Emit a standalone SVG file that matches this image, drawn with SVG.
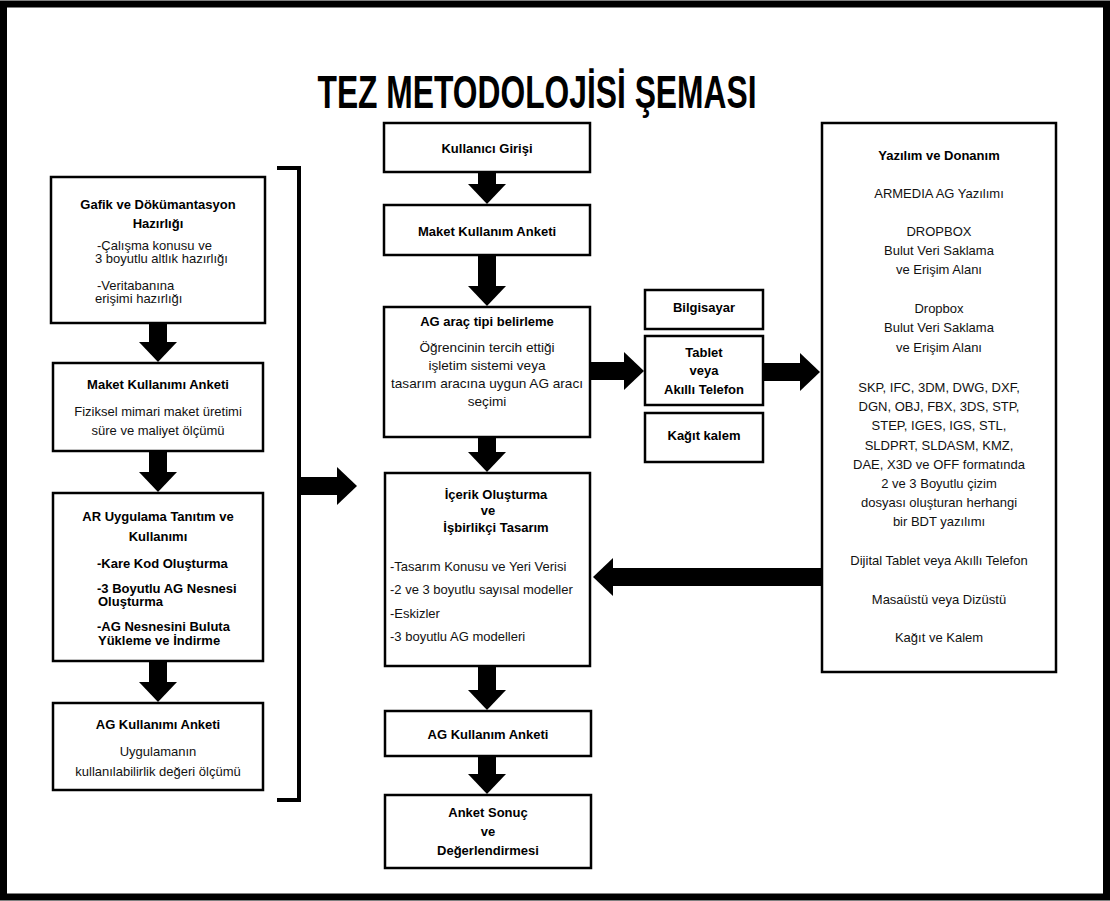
<svg xmlns="http://www.w3.org/2000/svg" width="1110" height="901" viewBox="0 0 1110 901">
<defs>
<style>
.frame{fill:#fff;stroke:#000;stroke-width:7}
.box{fill:#fff;stroke:#000;stroke-width:2.5}
.h{font-family:"Liberation Sans",Arial,sans-serif;font-weight:bold;font-size:13px;text-anchor:middle;fill:#000}
.t{font-family:"Liberation Sans",Arial,sans-serif;font-size:13px;text-anchor:middle;fill:#111}
.tm{font-family:"Liberation Sans",Arial,sans-serif;font-size:13.6px;text-anchor:middle;fill:#111}
.tl{font-family:"Liberation Sans",Arial,sans-serif;font-size:13px;text-anchor:start;fill:#111}
.hl{font-family:"Liberation Sans",Arial,sans-serif;font-weight:bold;font-size:13px;text-anchor:start;fill:#000}
.title{font-family:"Liberation Sans",Arial,sans-serif;font-weight:bold;font-size:47px;text-anchor:middle;fill:#000}
.shaft{stroke:#000;stroke-width:18;fill:none}
.bracket{stroke:#000;stroke-width:4;fill:none}
</style>
<marker id="ah" markerUnits="userSpaceOnUse" markerWidth="20" markerHeight="38" viewBox="0 0 20 38" refX="0" refY="19" orient="auto">
<path d="M0,0 L20,19 L0,38 z" fill="#000"/>
</marker>
</defs>
<rect class="frame" x="3.5" y="4" width="1103" height="893"/>
<text class="title" x="537" y="108" textLength="439" lengthAdjust="spacingAndGlyphs">TEZ METODOLOJİSİ ŞEMASI</text>

<g id="gafik">
<rect class="box" x="51" y="177" width="214" height="146"/>
<text class="h" x="158" y="209">Gafik ve Dökümantasyon</text>
<text class="h" x="158" y="228">Hazırlığı</text>
<text class="tl" x="97" y="250">-Çalışma konusu ve</text>
<text class="tl" x="95" y="263">3 boyutlu altlık hazırlığı</text>
<text class="tl" x="97" y="290">-Veritabanına</text>
<text class="tl" x="95" y="303">erişimi hazırlığı</text>
</g>
<g id="maket1">
<rect class="box" x="53" y="363" width="210" height="88"/>
<text class="h" x="158" y="389">Maket Kullanımı Anketi</text>
<text class="t" x="158" y="416">Fiziksel mimari maket üretimi</text>
<text class="t" x="158" y="435">süre ve maliyet ölçümü</text>
</g>
<g id="ar">
<rect class="box" x="53" y="493" width="210" height="168"/>
<text class="h" x="158" y="521">AR Uygulama Tanıtım ve</text>
<text class="h" x="158" y="541">Kullanımı</text>
<text class="hl" x="97" y="568">-Kare Kod Oluşturma</text>
<text class="hl" x="97" y="593">-3 Boyutlu AG Nesnesi</text>
<text class="hl" x="98" y="606">Oluşturma</text>
<text class="hl" x="97" y="631">-AG Nesnesini Buluta</text>
<text class="hl" x="98" y="645">Yükleme ve İndirme</text>
</g>
<g id="agk1">
<rect class="box" x="53" y="703" width="210" height="87"/>
<text class="h" x="158" y="729">AG Kullanımı Anketi</text>
<text class="t" x="158" y="756">Uygulamanın</text>
<text class="t" x="158" y="776">kullanılabilirlik değeri ölçümü</text>
</g>

<g id="giris">
<rect class="box" x="384" y="123" width="206" height="49"/>
<text class="h" x="487" y="153">Kullanıcı Girişi</text>
</g>
<g id="maket2">
<rect class="box" x="384" y="205" width="206" height="50"/>
<text class="h" x="487" y="236">Maket Kullanım Anketi</text>
</g>
<g id="agarac">
<rect class="box" x="384" y="307" width="206" height="130"/>
<text class="h" x="487" y="326">AG araç tipi belirleme</text>
<text class="tm" x="487" y="352">Öğrencinin tercih ettiği</text>
<text class="tm" x="487" y="370">işletim sistemi veya</text>
<text class="tm" x="487" y="388">tasarım aracına uygun AG aracı</text>
<text class="tm" x="487" y="406">seçimi</text>
</g>
<g id="icerik">
<rect class="box" x="385" y="473" width="205" height="193"/>
<text class="h" x="496" y="499">İçerik Oluşturma</text>
<text class="h" x="488" y="515">ve</text>
<text class="h" x="496" y="532">İşbirlikçi Tasarım</text>
<text class="tl" x="390" y="571">-Tasarım Konusu ve Yeri Verisi</text>
<text class="tl" x="390" y="594">-2 ve 3 boyutlu sayısal modeller</text>
<text class="tl" x="390" y="618">-Eskizler</text>
<text class="tl" x="390" y="641">-3 boyutlu AG modelleri</text>
</g>
<g id="agk2">
<rect class="box" x="385" y="711" width="206" height="45"/>
<text class="h" x="488" y="739">AG Kullanım Anketi</text>
</g>
<g id="sonuc">
<rect class="box" x="385" y="795" width="206" height="73"/>
<text class="h" x="488" y="817">Anket Sonuç</text>
<text class="h" x="488" y="836">ve</text>
<text class="h" x="488" y="855">Değerlendirmesi</text>
</g>

<g id="bilgisayar">
<rect class="box" x="645" y="290" width="118" height="39"/>
<text class="h" x="704" y="312">Bilgisayar</text>
</g>
<g id="tablet">
<rect class="box" x="645" y="336" width="118" height="69"/>
<text class="h" x="704" y="357">Tablet</text>
<text class="h" x="704" y="375">veya</text>
<text class="h" x="704" y="394">Akıllı Telefon</text>
</g>
<g id="kagit">
<rect class="box" x="645" y="413" width="118" height="49"/>
<text class="h" x="704" y="440">Kağıt kalem</text>
</g>

<g id="yazilim">
<rect class="box" x="822" y="123" width="234" height="549"/>
<text class="h" x="939" y="160">Yazılım ve Donanım</text>
<text class="t" x="939" y="198">ARMEDIA AG Yazılımı</text>
<text class="t" x="939" y="236">DROPBOX</text>
<text class="t" x="939" y="255">Bulut Veri Saklama</text>
<text class="t" x="939" y="274">ve Erişim Alanı</text>
<text class="t" x="939" y="313">Dropbox</text>
<text class="t" x="939" y="332">Bulut Veri Saklama</text>
<text class="t" x="939" y="352">ve Erişim Alanı</text>
<text class="t" x="939" y="392">SKP, IFC, 3DM, DWG, DXF,</text>
<text class="t" x="939" y="411">DGN, OBJ, FBX, 3DS, STP,</text>
<text class="t" x="939" y="430">STEP, IGES, IGS, STL,</text>
<text class="t" x="939" y="450">SLDPRT, SLDASM, KMZ,</text>
<text class="t" x="939" y="469">DAE, X3D ve OFF formatında</text>
<text class="t" x="939" y="488">2 ve 3 Boyutlu çizim</text>
<text class="t" x="939" y="507">dosyası oluşturan herhangi</text>
<text class="t" x="939" y="526">bir BDT yazılımı</text>
<text class="t" x="939" y="565">Dijital Tablet veya Akıllı Telefon</text>
<text class="t" x="939" y="604">Masaüstü veya Dizüstü</text>
<text class="t" x="939" y="642">Kağıt ve Kalem</text>
</g>

<g id="connectors">
<path class="bracket" d="M277,168 H299 V800 H277"/>
<line class="shaft" x1="158" y1="324" x2="158" y2="342" marker-end="url(#ah)"/>
<line class="shaft" x1="158" y1="452" x2="158" y2="472" marker-end="url(#ah)"/>
<line class="shaft" x1="158" y1="662" x2="158" y2="682" marker-end="url(#ah)"/>
<line class="shaft" x1="487" y1="173" x2="487" y2="184" marker-end="url(#ah)"/>
<line class="shaft" x1="487" y1="256" x2="487" y2="286" marker-end="url(#ah)"/>
<line class="shaft" x1="487" y1="438" x2="487" y2="452" marker-end="url(#ah)"/>
<line class="shaft" x1="487" y1="667" x2="487" y2="690" marker-end="url(#ah)"/>
<line class="shaft" x1="487" y1="757" x2="487" y2="774" marker-end="url(#ah)"/>
<line class="shaft" x1="300" y1="486" x2="337" y2="486" marker-end="url(#ah)"/>
<line class="shaft" x1="591" y1="371" x2="624" y2="371" marker-end="url(#ah)"/>
<line class="shaft" x1="764" y1="372" x2="800" y2="372" marker-end="url(#ah)"/>
<line class="shaft" x1="821" y1="577" x2="613" y2="577" marker-end="url(#ah)"/>
</g>
</svg>
